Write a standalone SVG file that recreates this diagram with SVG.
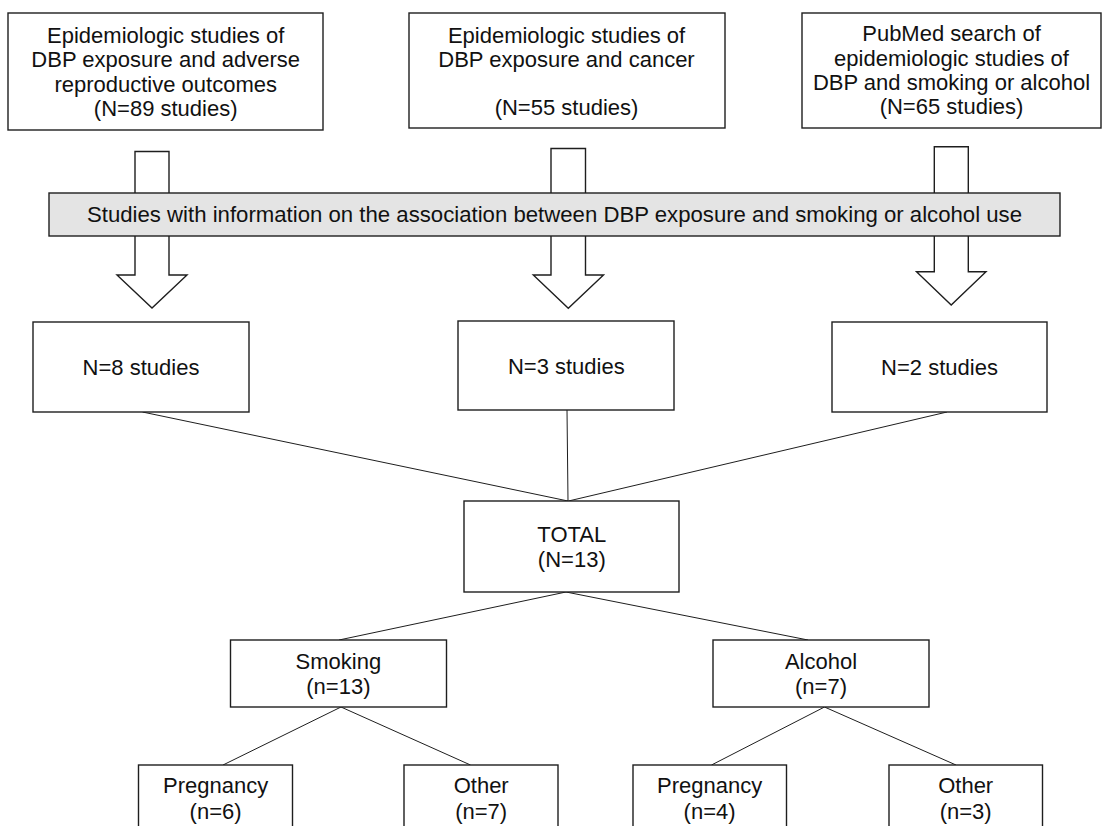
<svg xmlns="http://www.w3.org/2000/svg" width="1102" height="826" viewBox="0 0 1102 826">
<style>
.box{fill:#fff;stroke:#1e1e1e;stroke-width:1.4}
.bar{fill:#e4e4e4;stroke:#1e1e1e;stroke-width:1.4}
.arrow{fill:#fff;stroke:#1e1e1e;stroke-width:1.4;stroke-linejoin:miter}
.conn{stroke:#1e1e1e;stroke-width:1;fill:none}
text{font-family:"Liberation Sans",Arial,sans-serif;font-size:22px;fill:#111;text-anchor:middle}
</style>
<rect width="1102" height="826" fill="#fff"/>
<g id="arrows">
<polygon class="arrow" points="135,151.5 169,151.5 169,275 187,275 152,308 117,275 135,275"/>
<polygon class="arrow" points="551,148.5 585.5,148.5 585.5,275 603.5,275 568.3,308.3 533.3,275 551,275"/>
<polygon class="arrow" points="934.3,146.7 968.3,146.7 968.3,271.7 986,271.7 951.2,305 916.5,271.7 934.3,271.7"/>
</g>
<g id="n1">
<rect class="box" x="8" y="13" width="315" height="117"/>
<text x="165.7" y="42.5">Epidemiologic studies of</text>
<text x="165.7" y="67">DBP exposure and adverse</text>
<text x="165.7" y="91.5">reproductive outcomes</text>
<text x="165.7" y="115.5">(N=89 studies)</text>
</g>
<g id="n2">
<rect class="box" x="409" y="13" width="316" height="115"/>
<text x="566.5" y="42.5">Epidemiologic studies of</text>
<text x="566.5" y="67">DBP exposure and cancer</text>
<text x="566.5" y="115">(N=55 studies)</text>
</g>
<g id="n3">
<rect class="box" x="802" y="13" width="299" height="115"/>
<text x="951.5" y="41">PubMed search of</text>
<text x="951.5" y="65.5">epidemiologic studies of</text>
<text x="951.5" y="90">DBP and smoking or alcohol</text>
<text x="951.5" y="114">(N=65 studies)</text>
</g>
<g id="bar">
<rect class="bar" x="49" y="193" width="1011" height="43"/>
<text x="554.5" y="221.5" textLength="935" lengthAdjust="spacingAndGlyphs">Studies with information on the association between DBP exposure and smoking or alcohol use</text>
</g>
<g id="connectors">
<line class="conn" x1="142.5" y1="412" x2="568" y2="501"/>
<line class="conn" x1="567" y1="410" x2="568" y2="501"/>
<line class="conn" x1="947" y1="412" x2="568.5" y2="501"/>
<line class="conn" x1="566" y1="592" x2="339" y2="640"/>
<line class="conn" x1="566" y1="592" x2="808" y2="640"/>
<line class="conn" x1="341" y1="707" x2="223" y2="765"/>
<line class="conn" x1="341" y1="707" x2="470.5" y2="765"/>
<line class="conn" x1="824.5" y1="707" x2="711.5" y2="765"/>
<line class="conn" x1="824.5" y1="707" x2="956" y2="765"/>
</g>
<g id="n8">
<rect class="box" x="33" y="322" width="216" height="90"/>
<text x="141" y="375">N=8 studies</text>
</g>
<g id="n3s">
<rect class="box" x="458" y="321" width="216" height="89"/>
<text x="566.3" y="374">N=3 studies</text>
</g>
<g id="n2s">
<rect class="box" x="832" y="322" width="215" height="90"/>
<text x="939.5" y="375">N=2 studies</text>
</g>
<g id="total">
<rect class="box" x="464" y="501" width="215" height="91"/>
<text x="571.8" y="541.7">TOTAL</text>
<text x="571.8" y="566.5">(N=13)</text>
</g>
<g id="smoking">
<rect class="box" x="230.5" y="640" width="216" height="67"/>
<text x="338.4" y="668.5">Smoking</text>
<text x="338.4" y="693.5">(n=13)</text>
</g>
<g id="alcohol">
<rect class="box" x="713" y="640" width="216" height="67"/>
<text x="821" y="668.5">Alcohol</text>
<text x="821" y="693.5">(n=7)</text>
</g>
<g id="smoke-preg">
<rect class="box" x="138.5" y="765" width="154" height="80"/>
<text x="215.6" y="793.3">Pregnancy</text>
<text x="215.6" y="818.5">(n=6)</text>
</g>
<g id="smoke-other">
<rect class="box" x="404" y="765" width="154" height="80"/>
<text x="481.2" y="793.3">Other</text>
<text x="481.2" y="818.5">(n=7)</text>
</g>
<g id="alc-preg">
<rect class="box" x="633" y="765" width="153.5" height="80"/>
<text x="709.6" y="793.3">Pregnancy</text>
<text x="709.6" y="818.5">(n=4)</text>
</g>
<g id="alc-other">
<rect class="box" x="889" y="765" width="153.5" height="80"/>
<text x="965.7" y="793.3">Other</text>
<text x="965.7" y="818.5">(n=3)</text>
</g>
</svg>
